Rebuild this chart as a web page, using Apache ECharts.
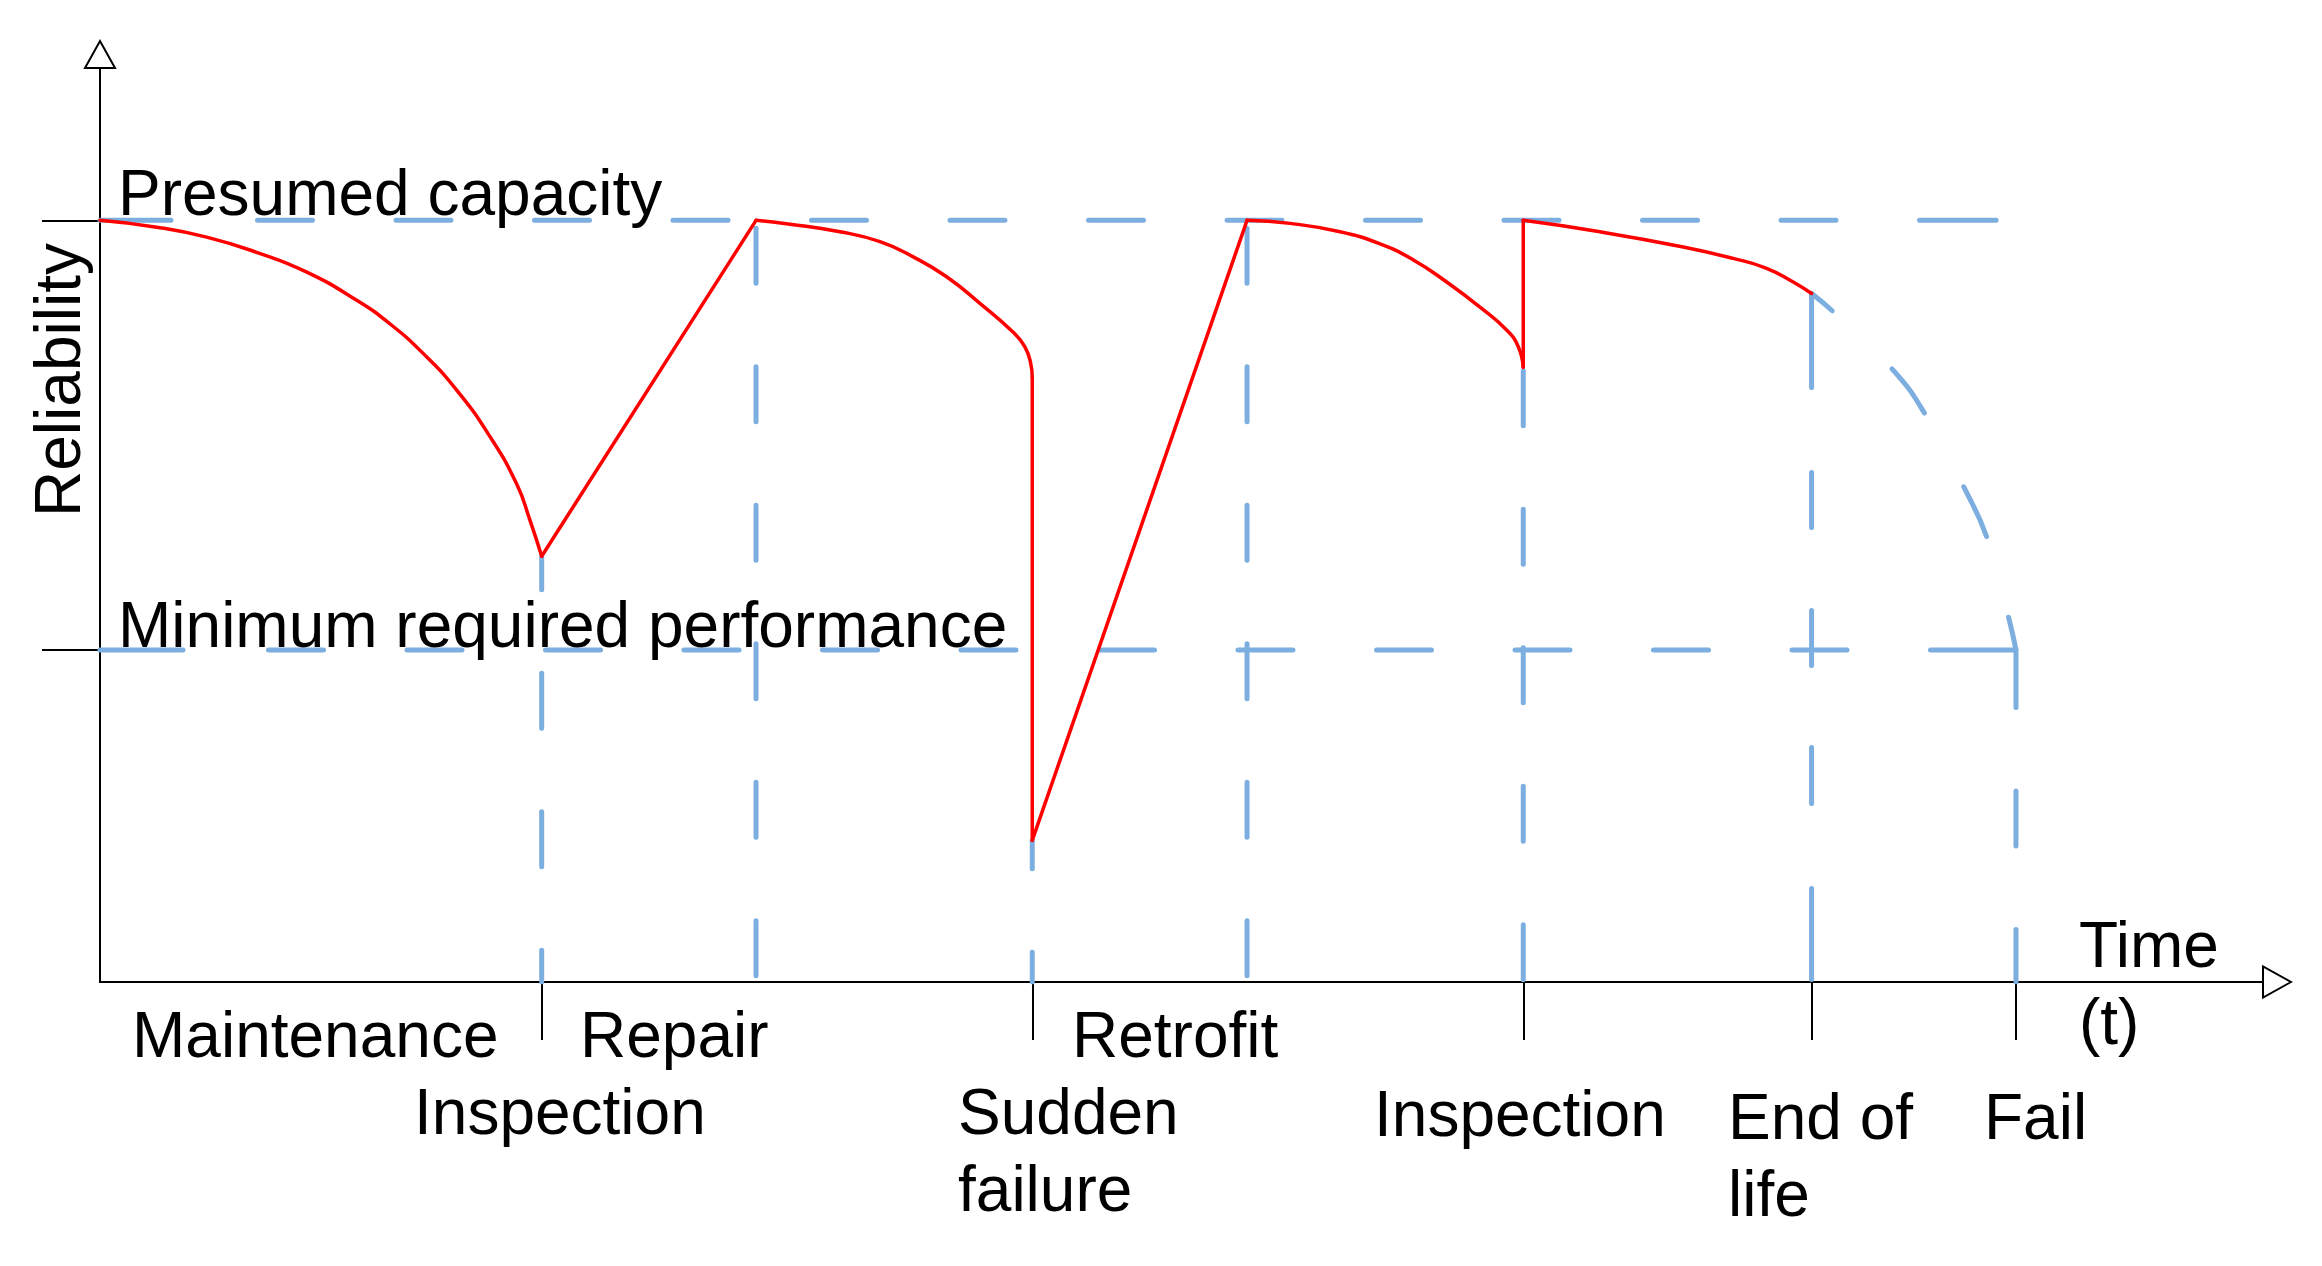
<!DOCTYPE html>
<html>
<head>
<meta charset="utf-8">
<script src="https://cdn.jsdelivr.net/npm/echarts@6/dist/echarts.min.js"></script>
<style>
html, body { margin: 0; padding: 0; background: #ffffff; }
#chart { width: 2322px; height: 1266px; }
</style>
</head>
<body>
<div id="chart"></div>
<script>
// ---------- data (time in arbitrary units 0..100, reliability normalised to presumed capacity = 1) ----------
const presumedCapacity = 1.0;
const minRequired = 0.436;
const capacityLineEnd = 87.66;
const minLineEnd = 88.58;

// event times and the level where each vertical reference line starts
const eventNames  = ['Inspection', 'Repair', 'Sudden failure', 'Retrofit', 'Inspection', 'End of life', 'Fail'];
const eventTimes  = [20.42, 30.33, 43.10, 53.03, 65.80, 79.13, 88.58];
const eventLevels = [0.559, 1.0, 0.186, 1.0, 0.807, 0.904, 0.436];
const tickedTimes = [20.42, 43.10, 65.80, 79.13, 88.58];

// red reliability path, piece by piece
const deterioration1 = [[0, 1.0], [2.62, 0.991], [4.93, 0.978], [7.24, 0.958], [9.56, 0.932], [11.87, 0.895],
  [13.41, 0.864], [14.95, 0.825], [16.49, 0.777], [18.03, 0.716], [19.26, 0.654], [19.88, 0.606], [20.42, 0.559]];
const repairRamp = [[20.42, 0.559], [30.33, 1.0]];
const deterioration2 = [[30.33, 1.0], [31.90, 0.995], [34.21, 0.985], [36.06, 0.972], [37.60, 0.952], [39.14, 0.926],
  [40.68, 0.891], [42.22, 0.853], [42.76, 0.834], [43.03, 0.812], [43.10, 0.794]];
const suddenDrop = [[43.10, 0.794], [43.10, 0.186]];
const retrofitRamp = [[43.10, 0.186], [53.03, 1.0]];
const deterioration3 = [[53.03, 1.0], [55.02, 0.996], [57.33, 0.985], [59.18, 0.969], [60.72, 0.948], [62.26, 0.919],
  [63.80, 0.886], [65.03, 0.856], [65.57, 0.834], [65.80, 0.807]];
const inspectionRestore = [[65.80, 0.807], [65.80, 1.0]];
const deterioration4 = [[65.80, 1.0], [69.35, 0.985], [73.20, 0.965], [75.51, 0.950], [77.05, 0.937], [78.28, 0.919], [79.13, 0.904]];
// blue projected decay after end of life
const projected = [[79.13, 0.904], [80.21, 0.878], [82.91, 0.803], [84.45, 0.742], [86.22, 0.647], [87.30, 0.578],
  [88.27, 0.475], [88.58, 0.436]];

// ---------- styles ----------
const BLUE = '#7CAEDF';
const RED = '#FF0000';
const FONT = '64px "Liberation Sans", Arial, sans-serif';
const DASH = [55, 83.5];

// dash pattern with a longer first/last dash, as in the drawing
function edgeDash(first, firstGap, count, last) {
  const arr = [first, firstGap];
  for (let i = 0; i < count; i++) { arr.push(55, 83.5); }
  arr.push(last, 400);
  return arr;
}
const capacityDash = edgeDash(71, 86.5, 12, 80);
const minDash = edgeDash(83, 85.5, 12, 92);
const eolDash = [94, 85, 55, 83, 55, 82, 56, 85, 91, 300];
const verticalStyle = [
  { type: DASH, offset: 21.5 },   // inspection
  { type: DASH, offset: 130.5 },  // repair
  { type: DASH, offset: 26.5 },   // sudden failure
  { type: DASH, offset: 130.5 },  // retrofit
  { type: DASH, offset: 135 },    // inspection
  { type: eolDash, offset: 0 },   // end of life
  { type: DASH, offset: 136 }     // fail
];

function blueLine(data, dash, offset, smooth) {
  return {
    type: 'line', data: data, showSymbol: false, symbol: 'none', silent: true, z: 2,
    smooth: smooth ? 0.5 : false,
    lineStyle: { color: BLUE, width: 5, type: dash, dashOffset: offset, cap: 'round' }
  };
}
function redLine(data, smooth) {
  return {
    type: 'line', data: data, showSymbol: false, symbol: 'none', silent: true, z: 5,
    smooth: smooth ? 0.5 : false,
    lineStyle: { color: RED, width: 3.5, cap: 'round', join: 'round' }
  };
}

const series = [];
series.push(blueLine([[0, presumedCapacity], [capacityLineEnd, presumedCapacity]], capacityDash, 0, false));
series.push(blueLine([[0, minRequired], [minLineEnd, minRequired]], minDash, 0, false));
eventTimes.forEach(function (t, i) {
  series.push(blueLine([[t, eventLevels[i]], [t, 0]], verticalStyle[i].type, verticalStyle[i].offset, false));
});
series.push(blueLine(projected, DASH, 28, true));
series.push(redLine(deterioration1, true));
series.push(redLine(repairRamp, false));
series.push(redLine(deterioration2, true));
series.push(redLine(suddenDrop, false));
series.push(redLine(retrofitRamp, false));
series.push(redLine(deterioration3, true));
series.push(redLine(inspectionRestore, false));
series.push(redLine(deterioration4, true));

const DY = 6.5; // text vertical adjustment
function txt(text, x, y) {
  return {
    type: 'text', x: x, y: y + DY, z: 100, silent: true,
    style: {
      text: text, font: FONT, fill: '#000', lineHeight: 77,
      align: 'left', verticalAlign: 'top', textAlign: 'left', textVerticalAlign: 'top'
    }
  };
}

const axisStroke = { color: '#000', width: 2 };

const option = {
  animation: false,
  backgroundColor: '#ffffff',
  grid: { left: 100, right: 59, top: 68, bottom: 284, containLabel: false },
  xAxis: {
    type: 'value', min: 0, max: 100,
    axisLine: { show: true, onZero: true, symbol: ['none', 'emptyTriangle'], symbolSize: [31, 28], symbolOffset: [0, 14], lineStyle: axisStroke },
    axisTick: { show: true, customValues: tickedTimes, length: 58, lineStyle: axisStroke },
    axisLabel: { show: false },
    splitLine: { show: false }
  },
  yAxis: {
    type: 'value', min: 0, max: 1.2,
    axisLine: { show: true, symbol: ['none', 'emptyTriangle'], symbolSize: [30, 27], symbolOffset: [0, 13.5], lineStyle: axisStroke },
    axisTick: { show: true, customValues: [minRequired, presumedCapacity], length: 58, lineStyle: axisStroke },
    axisLabel: { show: false },
    splitLine: { show: false }
  },
  series: series,
  graphic: [
    txt('Presumed capacity', 118, 152.3),
    txt('Minimum required performance', 118, 584.3),
    txt('Maintenance', 132, 994.3),
    txt('Repair', 580, 994.3),
    txt('Retrofit', 1072, 994.3),
    txt(eventNames[0], 414, 1071.3),
    txt('Sudden\nfailure', 958, 1071.3),
    txt(eventNames[4], 1374, 1073.3),
    txt('End of\nlife', 1728, 1076.3),
    txt(eventNames[6], 1984, 1076.3),
    txt('Time\n(t)', 2079, 904.3),
    {
      type: 'text', x: 62, y: 380, rotation: Math.PI / 2, z: 100, silent: true,
      style: { text: 'Reliability', font: FONT, fill: '#000', lineHeight: 64,
        align: 'center', verticalAlign: 'middle', textAlign: 'center', textVerticalAlign: 'middle' }
    }
  ]
};

const chart = echarts.init(document.getElementById('chart'), null, { renderer: 'canvas' });
chart.setOption(option);
</script>
</body>
</html>
